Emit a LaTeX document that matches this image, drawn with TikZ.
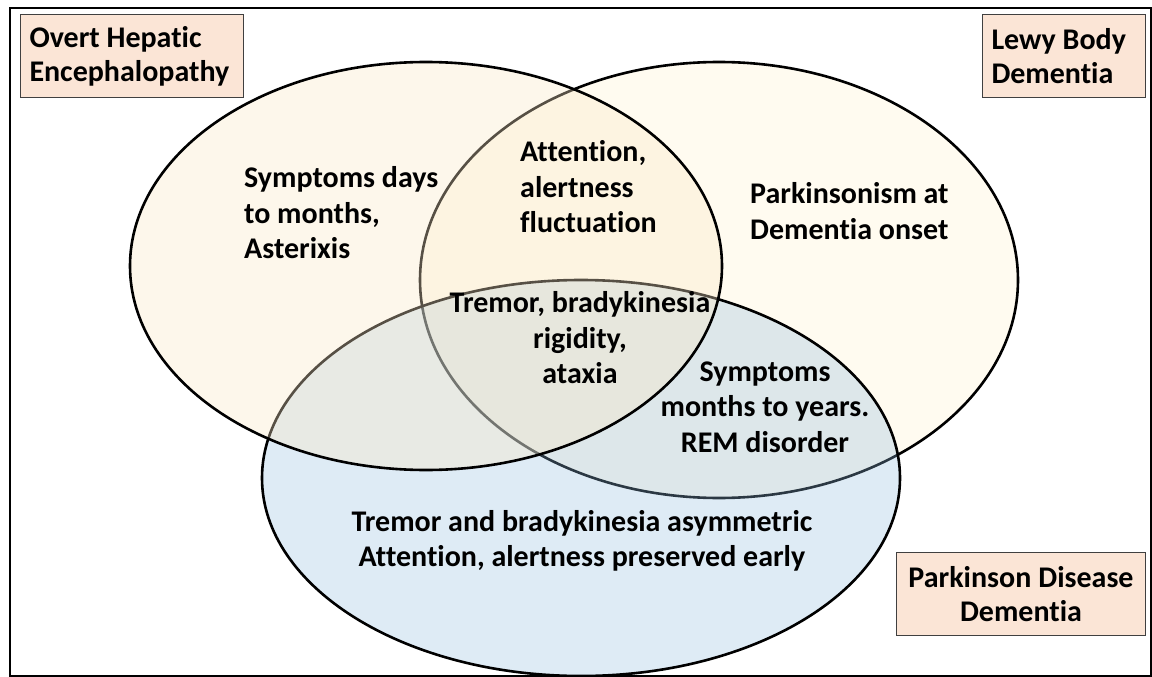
\documentclass[tikz,border=0pt]{standalone}
\usepackage{fontspec}
\setmainfont{Carlito}[Ligatures={NoCommon}]
\usetikzlibrary{shapes.geometric, positioning}
\definecolor{heCream}{RGB}{250,232,198}
\definecolor{lbdCream}{RGB}{255,251,240}
\definecolor{pdBlue}{RGB}{145,188,222}
\definecolor{softPeach}{RGB}{251,229,214}
\definecolor{boxEdge}{RGB}{64,64,64}
\tikzset{
    vennset/.style={
        ellipse,
        draw=black,
        line width=2.6pt,
        inner sep=0pt
    },
    namebox/.style={
        rectangle,
        draw=boxEdge,
        line width=1pt,
        fill=softPeach,
        inner xsep=9pt,
        inner ysep=4pt,
        minimum height=83pt,
        anchor=north west,
        execute at begin node={\spaceskip=0pt\xspaceskip=0pt\relax},
        font=\bfseries\fontsize{30}{34}\selectfont
    },
    regiontext/.style={
        align=left,
        inner sep=0pt,
        font=\bfseries\fontsize{30}{35.5}\selectfont
    }
}

\begin{document}
\begin{tikzpicture}[x=1pt, y=-1pt]
    \useasboundingbox (0,0) rectangle (1152,677);
    \draw[line width=1.6pt] (10,8) rectangle (1151,676);

    % the three sets
    \node[vennset, fill=lbdCream, minimum width=598pt, minimum height=436pt] (lbd) at (719,280) {};
    \node[vennset, fill=pdBlue, fill opacity=0.3, minimum width=638pt, minimum height=396pt] (pdd) at (581,478) {};
    \node[vennset, fill=heCream, fill opacity=0.35, minimum width=592pt, minimum height=408pt] (ohe) at (426,266) {};

    % set names
    \node[namebox, text width=205pt, align=left] (oheName) at (20,14) {Overt Hepatic\\Encephalopathy};
    \node[namebox, text width=145pt, align=left] (lbdName) at (982,14) {Lewy Body\\Dementia};
    \node[namebox, text width=231pt, align=center] (pddName) at (896,552) {Parkinson Disease\\Dementia};

    % region texts
    \node[regiontext, anchor=west] (oheOnly) at (244,213) {Symptoms days\\to months,\\Asterixis};
    \node[regiontext, anchor=west] (oheLbd) at (520,187) {Attention,\\alertness\\fluctuation};
    \node[regiontext, anchor=west] (lbdOnly) at (750,211) {Parkinsonism at\\Dementia onset};
    \node[regiontext, align=center] (allThree) at (580,338) {Tremor, bradykinesia\\rigidity,\\ataxia};
    \node[regiontext, align=center] (lbdPdd) at (765,407) {Symptoms\\months to years.\\REM disorder};
    \node[regiontext, align=center] (pddOnly) at (582,541) {Tremor and bradykinesia asymmetric\\Attention, alertness preserved early};
\end{tikzpicture}
\end{document}
